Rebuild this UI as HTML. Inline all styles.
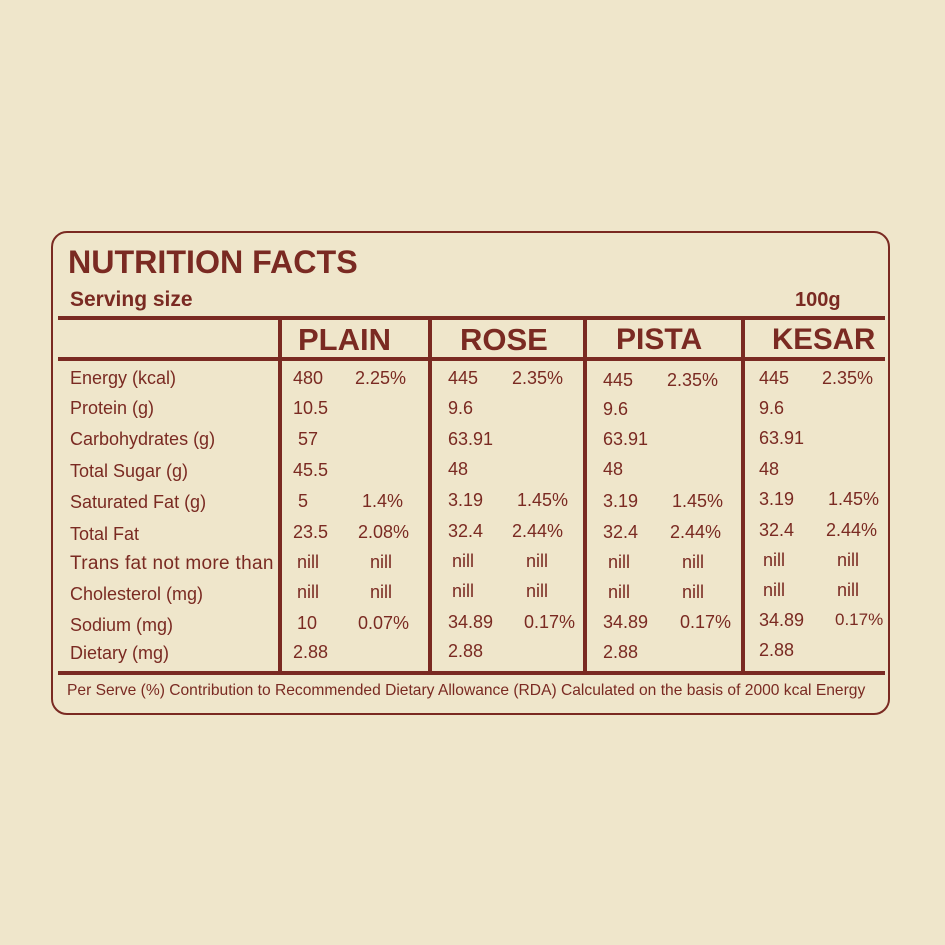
<!DOCTYPE html>
<html><head><meta charset="utf-8"><style>
body{margin:0;width:945px;height:945px;background:#efe6cb;position:relative;overflow:hidden;font-family:"Liberation Sans",sans-serif;color:#7a2a22}
.box{position:absolute;left:51px;top:231px;width:835px;height:480px;border:2.5px solid #7a2a22;border-radius:16px}
.h{position:absolute;background:#7a2a22;height:4px;left:58px;width:827px}
.v{position:absolute;background:#7a2a22;width:4px;top:318px;height:357px}
.t{position:absolute;white-space:nowrap;line-height:20px;font-size:18px;transform:translateY(-10px)}
.b{font-weight:bold}
.hd{position:absolute;font-weight:bold;font-size:31px;line-height:34px;transform:translateY(-17px)}
</style></head><body>
<div class="box"></div>
<div class="hd" style="left:68px;top:262px;font-size:32.2px">NUTRITION FACTS</div>
<div class="t b" style="left:70px;top:300px;font-size:21px">Serving size</div>
<div class="t b" style="left:795px;top:300px;font-size:20px">100g</div>
<div class="h" style="top:316px"></div>
<div class="h" style="top:357px"></div>
<div class="h" style="top:671px"></div>
<div class="v" style="left:278px"></div>
<div class="v" style="left:428px"></div>
<div class="v" style="left:583px"></div>
<div class="v" style="left:741px"></div>
<div class="hd" style="left:298px;top:340px">PLAIN</div>
<div class="hd" style="left:460px;top:340px">ROSE</div>
<div class="hd" style="left:616px;top:340px;font-size:30px">PISTA</div>
<div class="hd" style="left:772px;top:340px;font-size:29.5px">KESAR</div>

<div class="t" style="left:70px;top:378px">Energy (kcal)</div>
<div class="t" style="left:70px;top:408px">Protein (g)</div>
<div class="t" style="left:70px;top:439px">Carbohydrates (g)</div>
<div class="t" style="left:70px;top:471px">Total Sugar (g)</div>
<div class="t" style="left:70px;top:502px">Saturated Fat (g)</div>
<div class="t" style="left:70px;top:534px">Total Fat</div>
<div class="t" style="left:70px;top:564px;font-size:19px;letter-spacing:0.3px">Trans fat not more than</div>
<div class="t" style="left:70px;top:594px">Cholesterol (mg)</div>
<div class="t" style="left:70px;top:625px">Sodium (mg)</div>
<div class="t" style="left:70px;top:653px">Dietary (mg)</div>

<div class="t" style="left:293px;top:378px">480</div><div class="t" style="left:355px;top:378px">2.25%</div>
<div class="t" style="left:293px;top:408px">10.5</div>
<div class="t" style="left:298px;top:439px">57</div>
<div class="t" style="left:293px;top:470px">45.5</div>
<div class="t" style="left:298px;top:501px">5</div><div class="t" style="left:362px;top:501px">1.4%</div>
<div class="t" style="left:293px;top:532px">23.5</div><div class="t" style="left:358px;top:532px">2.08%</div>
<div class="t" style="left:297px;top:562px">nill</div><div class="t" style="left:370px;top:562px">nill</div>
<div class="t" style="left:297px;top:592px">nill</div><div class="t" style="left:370px;top:592px">nill</div>
<div class="t" style="left:297px;top:623px">10</div><div class="t" style="left:358px;top:623px">0.07%</div>
<div class="t" style="left:293px;top:652px">2.88</div>

<div class="t" style="left:448px;top:378px">445</div><div class="t" style="left:512px;top:378px">2.35%</div>
<div class="t" style="left:448px;top:408px">9.6</div>
<div class="t" style="left:448px;top:439px">63.91</div>
<div class="t" style="left:448px;top:469px">48</div>
<div class="t" style="left:448px;top:500px">3.19</div><div class="t" style="left:517px;top:500px">1.45%</div>
<div class="t" style="left:448px;top:531px">32.4</div><div class="t" style="left:512px;top:531px">2.44%</div>
<div class="t" style="left:452px;top:561px">nill</div><div class="t" style="left:526px;top:561px">nill</div>
<div class="t" style="left:452px;top:591px">nill</div><div class="t" style="left:526px;top:591px">nill</div>
<div class="t" style="left:448px;top:622px">34.89</div><div class="t" style="left:524px;top:622px">0.17%</div>
<div class="t" style="left:448px;top:651px">2.88</div>

<div class="t" style="left:603px;top:380px">445</div><div class="t" style="left:667px;top:380px">2.35%</div>
<div class="t" style="left:603px;top:409px">9.6</div>
<div class="t" style="left:603px;top:439px">63.91</div>
<div class="t" style="left:603px;top:469px">48</div>
<div class="t" style="left:603px;top:501px">3.19</div><div class="t" style="left:672px;top:501px">1.45%</div>
<div class="t" style="left:603px;top:532px">32.4</div><div class="t" style="left:670px;top:532px">2.44%</div>
<div class="t" style="left:608px;top:562px">nill</div><div class="t" style="left:682px;top:562px">nill</div>
<div class="t" style="left:608px;top:592px">nill</div><div class="t" style="left:682px;top:592px">nill</div>
<div class="t" style="left:603px;top:622px">34.89</div><div class="t" style="left:680px;top:622px">0.17%</div>
<div class="t" style="left:603px;top:652px">2.88</div>

<div class="t" style="left:759px;top:378px">445</div><div class="t" style="left:822px;top:378px">2.35%</div>
<div class="t" style="left:759px;top:408px">9.6</div>
<div class="t" style="left:759px;top:438px">63.91</div>
<div class="t" style="left:759px;top:469px">48</div>
<div class="t" style="left:759px;top:499px">3.19</div><div class="t" style="left:828px;top:499px">1.45%</div>
<div class="t" style="left:759px;top:530px">32.4</div><div class="t" style="left:826px;top:530px">2.44%</div>
<div class="t" style="left:763px;top:560px">nill</div><div class="t" style="left:837px;top:560px">nill</div>
<div class="t" style="left:763px;top:590px">nill</div><div class="t" style="left:837px;top:590px">nill</div>
<div class="t" style="left:759px;top:620px">34.89</div><div class="t" style="left:835px;top:620px;font-size:17px">0.17%</div>
<div class="t" style="left:759px;top:650px">2.88</div>

<div class="t" style="left:67px;top:691px;font-size:15.6px">Per Serve (%) Contribution to Recommended Dietary Allowance (RDA) Calculated on the basis of 2000 kcal Energy</div>
</body></html>
